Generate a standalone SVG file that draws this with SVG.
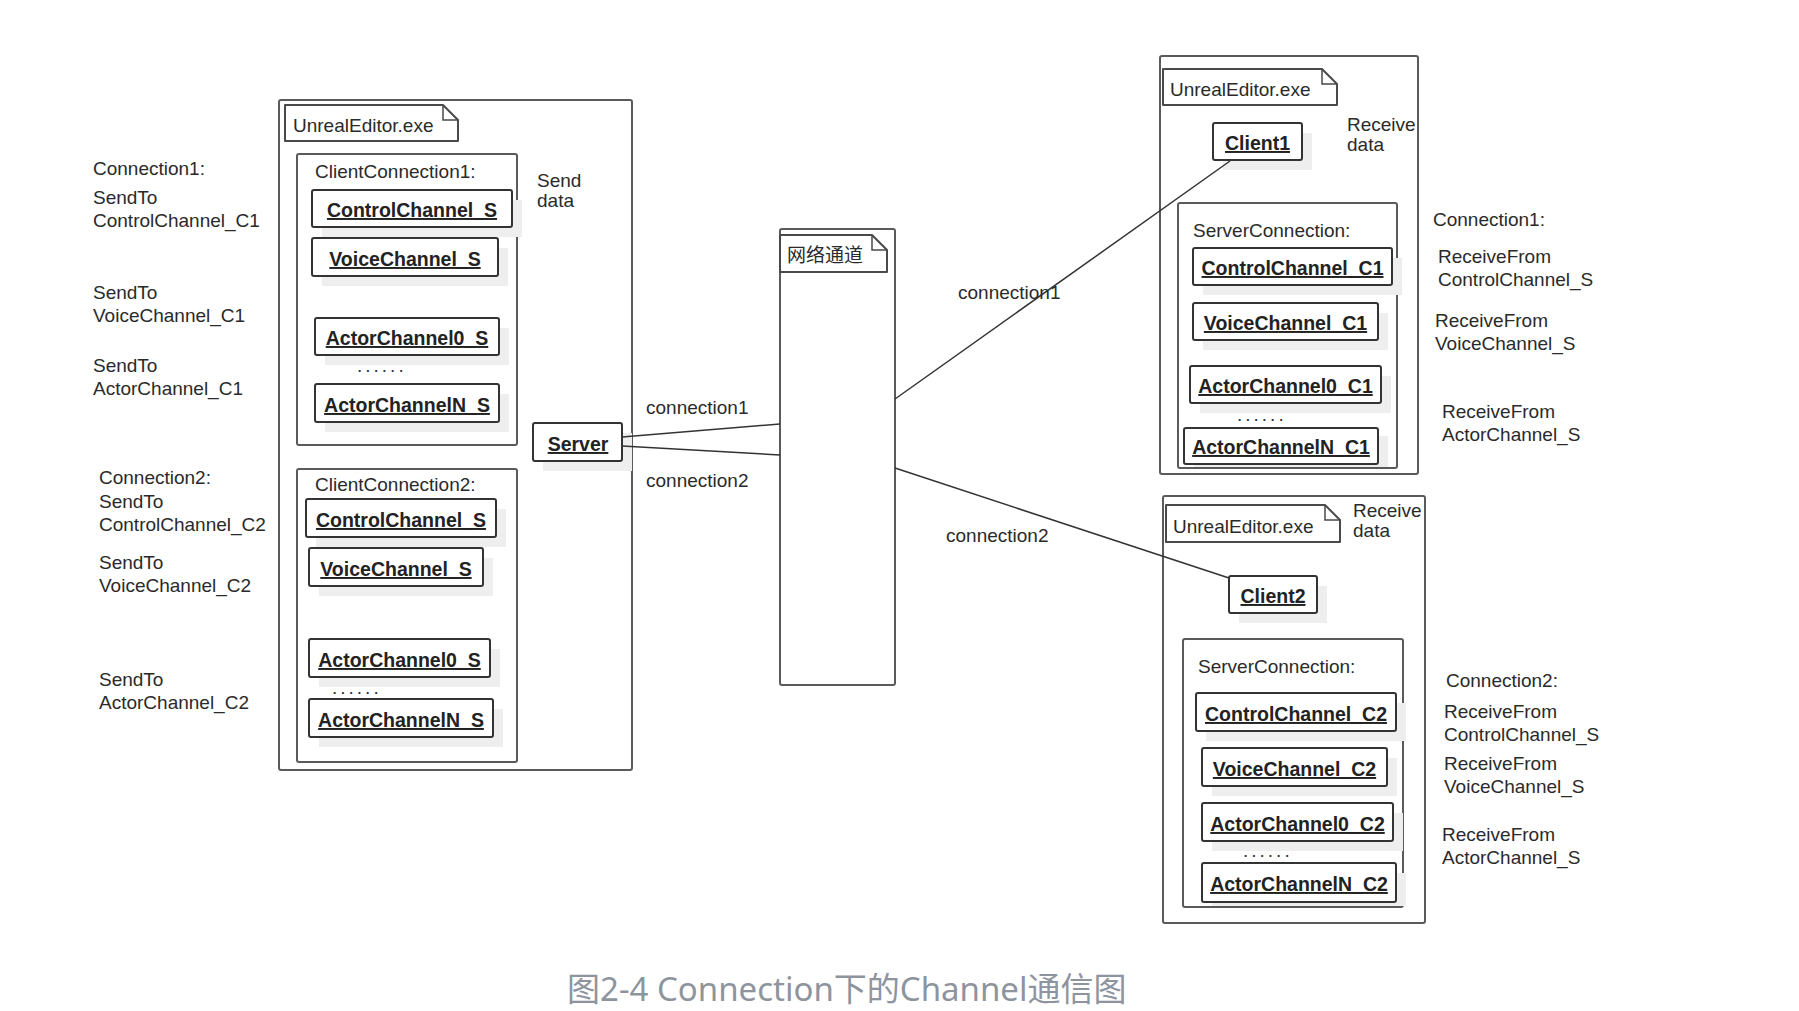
<svg xmlns="http://www.w3.org/2000/svg" width="1799" height="1011" viewBox="0 0 1799 1011">
<defs>
<style>
.bg{fill:#ffffff}
.outer{fill:none;stroke:#5a5a5a;stroke-width:2}
.conn{fill:none;stroke:#5a5a5a;stroke-width:2}
.tab{fill:#ffffff;stroke:#4a4a4a;stroke-width:2;stroke-linejoin:round}
.fold{fill:none;stroke:#4a4a4a;stroke-width:1.5}
.obj{fill:#ffffff;stroke:#333333;stroke-width:2}
.shadow{fill:#eeeeee;stroke:none}
.t{font-family:"Liberation Sans",Arial,sans-serif;font-size:19px;fill:#2a2a2a}
.tb{font-family:"Liberation Sans",Arial,sans-serif;font-size:19.5px;font-weight:bold;fill:#222222;text-anchor:middle;text-decoration:underline}
.cjk{font-family:"Noto Sans CJK SC",sans-serif;font-size:19px;fill:#2a2a2a}
.dots{font-family:"Liberation Sans",Arial,sans-serif;font-size:19px;fill:#333333;letter-spacing:3px}
.edge{fill:none;stroke:#333333;stroke-width:1.5}
.cap{font-family:"Noto Sans","Noto Sans CJK SC",sans-serif;font-size:33px;fill:#8e949e}
</style>
</defs>
<rect class="bg" x="0" y="0" width="1799" height="1011"/>

<!-- Left process -->
<g id="server-process">
<rect class="outer" x="279" y="100" width="353" height="670" rx="2"/>
<path class="tab" d="M285,105 H443 L458,120 V141 H285 Z"/>
<path class="fold" d="M443,105 V120 H458"/>
<text class="t" x="293" y="132">UnrealEditor.exe</text>
<text class="t" x="537" y="187">Send</text>
<text class="t" x="537" y="207">data</text>
</g>

<g id="client-connection1">
<rect class="conn" x="297" y="154" width="220" height="291" rx="2"/>
<text class="t" x="315" y="178">ClientConnection1:</text>
</g>
<g id="cc1-control">
<rect class="shadow" x="322" y="200" width="200" height="37"/>
<rect class="obj" x="312" y="190" width="200" height="37" rx="2"/>
<text class="tb" x="412" y="217">ControlChannel_S</text>
</g>
<g id="cc1-voice">
<rect class="shadow" x="322" y="248" width="186" height="38"/>
<rect class="obj" x="312" y="238" width="186" height="38" rx="2"/>
<text class="tb" x="405" y="266">VoiceChannel_S</text>
</g>
<g id="cc1-actor0">
<rect class="shadow" x="325" y="328" width="184" height="37"/>
<rect class="obj" x="315" y="318" width="184" height="37" rx="2"/>
<text class="tb" x="407" y="345">ActorChannel0_S</text>
</g>
<text class="dots" x="357" y="372">......</text>
<g id="cc1-actorN">
<rect class="shadow" x="325" y="394" width="184" height="38"/>
<rect class="obj" x="315" y="384" width="184" height="38" rx="2"/>
<text class="tb" x="407" y="412">ActorChannelN_S</text>
</g>

<g id="server">
<rect class="shadow" x="543" y="433" width="89" height="38"/>
<rect class="obj" x="533" y="423" width="89" height="38" rx="2"/>
<text class="tb" x="578" y="451">Server</text>
</g>

<g id="client-connection2">
<rect class="conn" x="297" y="469" width="220" height="293" rx="2"/>
<text class="t" x="315" y="491">ClientConnection2:</text>
</g>
<g id="cc2-control">
<rect class="shadow" x="316" y="509" width="190" height="38"/>
<rect class="obj" x="306" y="499" width="190" height="38" rx="2"/>
<text class="tb" x="401" y="527">ControlChannel_S</text>
</g>
<g id="cc2-voice">
<rect class="shadow" x="319" y="558" width="174" height="38"/>
<rect class="obj" x="309" y="548" width="174" height="38" rx="2"/>
<text class="tb" x="396" y="576">VoiceChannel_S</text>
</g>
<g id="cc2-actor0">
<rect class="shadow" x="319" y="649" width="181" height="38"/>
<rect class="obj" x="309" y="639" width="181" height="38" rx="2"/>
<text class="tb" x="399.5" y="667">ActorChannel0_S</text>
</g>
<text class="dots" x="332" y="694">......</text>
<g id="cc2-actorN">
<rect class="shadow" x="319" y="709" width="184" height="38"/>
<rect class="obj" x="309" y="699" width="184" height="38" rx="2"/>
<text class="tb" x="401" y="727">ActorChannelN_S</text>
</g>

<!-- Network channel -->
<g id="network">
<rect class="outer" x="780" y="229" width="115" height="456" rx="2"/>
<path class="tab" d="M780,235 H872 L887,250 V272 H780 Z"/>
<path class="fold" d="M872,235 V250 H887"/>
<text class="cjk" x="787" y="262">网络通道</text>
</g>

<!-- Right top process -->
<g id="client1-process">
<rect class="outer" x="1160" y="56" width="258" height="418" rx="2"/>
<path class="tab" d="M1163,69 H1322 L1337,84 V105 H1163 Z"/>
<path class="fold" d="M1322,69 V84 H1337"/>
<text class="t" x="1170" y="96">UnrealEditor.exe</text>
<text class="t" x="1347" y="131">Receive</text>
<text class="t" x="1347" y="151">data</text>
</g>
<g id="client1">
<rect class="shadow" x="1223" y="133" width="89" height="37"/>
<rect class="obj" x="1213" y="123" width="89" height="37" rx="2"/>
<text class="tb" x="1257.5" y="150">Client1</text>
</g>
<g id="server-connection1">
<rect class="conn" x="1178" y="203" width="219" height="265" rx="2"/>
<text class="t" x="1193" y="237">ServerConnection:</text>
</g>
<g id="sc1-control">
<rect class="shadow" x="1203" y="258" width="199" height="37"/>
<rect class="obj" x="1193" y="248" width="199" height="37" rx="2"/>
<text class="tb" x="1292.5" y="275">ControlChannel_C1</text>
</g>
<g id="sc1-voice">
<rect class="shadow" x="1203" y="313" width="185" height="37"/>
<rect class="obj" x="1193" y="303" width="185" height="37" rx="2"/>
<text class="tb" x="1285.5" y="330">VoiceChannel_C1</text>
</g>
<g id="sc1-actor0">
<rect class="shadow" x="1200" y="376" width="191" height="37"/>
<rect class="obj" x="1190" y="366" width="191" height="37" rx="2"/>
<text class="tb" x="1285.5" y="393">ActorChannel0_C1</text>
</g>
<text class="dots" x="1237" y="421">......</text>
<g id="sc1-actorN">
<rect class="shadow" x="1194" y="436" width="194" height="31"/>
<rect class="obj" x="1184" y="428" width="194" height="36" rx="2"/>
<text class="tb" x="1281" y="454">ActorChannelN_C1</text>
</g>

<!-- Right bottom process -->
<g id="client2-process">
<rect class="outer" x="1163" y="496" width="262" height="427" rx="2"/>
<path class="tab" d="M1166,505 H1325 L1340,520 V542 H1166 Z"/>
<path class="fold" d="M1325,505 V520 H1340"/>
<text class="t" x="1173" y="533">UnrealEditor.exe</text>
<text class="t" x="1353" y="517">Receive</text>
<text class="t" x="1353" y="537">data</text>
</g>
<g id="client2">
<rect class="shadow" x="1239" y="586" width="88" height="37"/>
<rect class="obj" x="1229" y="576" width="88" height="37" rx="2"/>
<text class="tb" x="1273" y="603">Client2</text>
</g>
<g id="server-connection2">
<rect class="conn" x="1183" y="639" width="220" height="268" rx="2"/>
<text class="t" x="1198" y="673">ServerConnection:</text>
</g>
<g id="sc2-control">
<rect class="shadow" x="1206" y="703" width="200" height="38"/>
<rect class="obj" x="1196" y="693" width="200" height="38" rx="2"/>
<text class="tb" x="1296" y="721">ControlChannel_C2</text>
</g>
<g id="sc2-voice">
<rect class="shadow" x="1212" y="758" width="185" height="38"/>
<rect class="obj" x="1202" y="748" width="185" height="38" rx="2"/>
<text class="tb" x="1294.5" y="776">VoiceChannel_C2</text>
</g>
<g id="sc2-actor0">
<rect class="shadow" x="1212" y="813" width="191" height="38"/>
<rect class="obj" x="1202" y="803" width="191" height="38" rx="2"/>
<text class="tb" x="1297.5" y="831">ActorChannel0_C2</text>
</g>
<text class="dots" x="1243" y="857">......</text>
<g id="sc2-actorN">
<rect class="shadow" x="1212" y="873" width="194" height="33"/>
<rect class="obj" x="1202" y="863" width="194" height="39" rx="2"/>
<text class="tb" x="1299" y="891">ActorChannelN_C2</text>
</g>

<!-- Connectors -->
<g id="connectors">
<line class="edge" x1="622" y1="437" x2="780" y2="424"/>
<line class="edge" x1="622" y1="446" x2="780" y2="455"/>
<line class="edge" x1="895" y1="399" x2="1230" y2="161"/>
<line class="edge" x1="895" y1="468" x2="1229" y2="578"/>
<text class="t" x="646" y="414">connection1</text>
<text class="t" x="646" y="487">connection2</text>
<text class="t" x="958" y="299">connection1</text>
<text class="t" x="946" y="542">connection2</text>
</g>

<!-- Left annotations -->
<g id="left-notes">
<text class="t" x="93" y="175">Connection1:</text>
<text class="t" x="93" y="204">SendTo</text>
<text class="t" x="93" y="227">ControlChannel_C1</text>
<text class="t" x="93" y="299">SendTo</text>
<text class="t" x="93" y="322">VoiceChannel_C1</text>
<text class="t" x="93" y="372">SendTo</text>
<text class="t" x="93" y="395">ActorChannel_C1</text>
<text class="t" x="99" y="484">Connection2:</text>
<text class="t" x="99" y="508">SendTo</text>
<text class="t" x="99" y="531">ControlChannel_C2</text>
<text class="t" x="99" y="569">SendTo</text>
<text class="t" x="99" y="592">VoiceChannel_C2</text>
<text class="t" x="99" y="686">SendTo</text>
<text class="t" x="99" y="709">ActorChannel_C2</text>
</g>

<!-- Right annotations -->
<g id="right-notes">
<text class="t" x="1433" y="226">Connection1:</text>
<text class="t" x="1438" y="263">ReceiveFrom</text>
<text class="t" x="1438" y="286">ControlChannel_S</text>
<text class="t" x="1435" y="327">ReceiveFrom</text>
<text class="t" x="1435" y="350">VoiceChannel_S</text>
<text class="t" x="1442" y="418">ReceiveFrom</text>
<text class="t" x="1442" y="441">ActorChannel_S</text>
<text class="t" x="1446" y="687">Connection2:</text>
<text class="t" x="1444" y="718">ReceiveFrom</text>
<text class="t" x="1444" y="741">ControlChannel_S</text>
<text class="t" x="1444" y="770">ReceiveFrom</text>
<text class="t" x="1444" y="793">VoiceChannel_S</text>
<text class="t" x="1442" y="841">ReceiveFrom</text>
<text class="t" x="1442" y="864">ActorChannel_S</text>
</g>

<text class="cap" x="567" y="1001">图2-4 Connection下的Channel通信图</text>
</svg>
